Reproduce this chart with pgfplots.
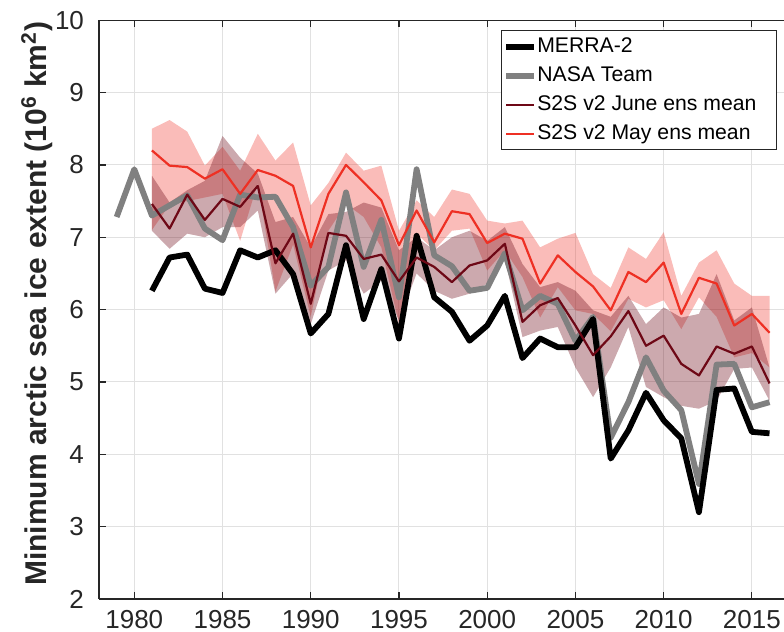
\documentclass[border=0pt]{standalone}
\usepackage{pgfplots}
\pgfplotsset{compat=1.18}
\usepgfplotslibrary{fillbetween}
\usepackage{fontspec}
\setmainfont{Liberation Sans}

\definecolor{axgray}{RGB}{38,38,38}
\definecolor{gridgray}{RGB}{225,225,225}
\definecolor{nasagray}{RGB}{128,128,128}
\definecolor{junered}{RGB}{110,8,22}
\definecolor{mayred}{RGB}{238,48,36}

% observed minimum extent
\pgfplotstableread{
year merra nasa
1979 nan  7.28
1980 nan  7.94
1981 6.26 7.30
1982 6.72 7.44
1983 6.76 7.58
1984 6.29 7.12
1985 6.23 6.96
1986 6.82 7.59
1987 6.72 7.55
1988 6.82 7.56
1989 6.49 7.14
1990 5.67 6.33
1991 5.94 6.59
1992 6.89 7.62
1993 5.87 6.59
1994 6.56 7.24
1995 5.60 6.17
1996 7.02 7.94
1997 6.17 6.75
1998 5.97 6.60
1999 5.57 6.26
2000 5.78 6.30
2001 6.19 6.78
2002 5.33 5.99
2003 5.60 6.19
2004 5.48 6.08
2005 5.48 5.57
2006 5.87 5.90
2007 3.94 4.23
2008 4.33 4.72
2009 4.85 5.34
2010 4.47 4.88
2011 4.22 4.61
2012 3.20 3.59
2013 4.89 5.24
2014 4.91 5.25
2015 4.31 4.65
2016 4.29 4.72
}\obs

% S2S v2 ensemble means and spread (June / May starts)
\pgfplotstableread{
year jm   jlo  jhi  mm   mlo  mhi
1981 7.46 7.09 7.85 8.20 7.10 8.50
1982 7.12 6.84 7.48 7.99 7.45 8.62
1983 7.59 7.05 7.65 7.97 7.50 8.46
1984 7.24 7.00 7.78 7.81 7.55 7.99
1985 7.53 7.14 8.40 7.94 7.60 8.25
1986 7.42 7.14 8.10 7.60 6.95 7.92
1987 7.71 7.37 7.88 7.93 7.75 8.43
1988 6.64 6.22 7.21 7.85 6.25 8.06
1989 7.05 6.50 7.28 7.71 6.90 8.31
1990 6.08 5.80 6.86 6.86 5.90 7.44
1991 7.06 6.54 7.32 7.60 7.09 7.75
1992 7.02 6.68 7.35 8.00 7.46 8.17
1993 6.70 6.22 7.48 7.76 7.28 7.92
1994 6.76 6.40 7.41 7.51 6.86 7.99
1995 6.39 5.85 6.82 6.89 5.80 7.09
1996 6.72 6.50 7.00 7.37 7.05 7.51
1997 6.59 6.26 6.82 6.93 6.82 7.28
1998 6.38 6.15 7.00 7.36 7.09 7.66
1999 6.61 6.22 7.09 7.32 7.12 7.60
2000 6.68 6.36 6.95 6.92 6.54 7.23
2001 6.91 6.70 7.14 7.05 6.82 7.19
2002 5.83 5.62 6.63 6.98 6.45 7.23
2003 6.06 5.71 6.31 6.36 5.89 6.86
2004 6.16 5.76 6.38 6.75 6.31 6.98
2005 5.78 5.20 6.26 6.52 5.99 7.06
2006 5.37 4.79 5.99 6.32 5.94 6.49
2007 5.63 5.20 5.90 5.99 5.70 6.30
2008 5.98 5.76 6.19 6.52 6.15 6.86
2009 5.50 4.93 5.80 6.38 6.03 6.70
2010 5.64 4.79 6.03 6.65 6.13 7.07
2011 5.25 4.67 5.89 5.94 5.73 6.19
2012 5.09 4.63 5.94 6.44 6.17 6.65
2013 5.49 4.74 6.49 6.36 5.90 6.82
2014 5.39 5.18 5.85 5.78 5.34 6.36
2015 5.49 5.20 6.03 5.94 5.40 6.19
2016 4.98 4.74 5.20 5.68 5.20 6.19
}\ens

\begin{document}
\begin{tikzpicture}
\begin{axis}[
    at={(0,0)}, anchor=south west,
    scale only axis,
    width=342.5pt, height=289.4pt,
    xmin=1978, xmax=2016.82,
    ymin=2, ymax=10,
    xtick={1980,1985,...,2015},
    ytick={2,3,...,10},
    axis y line*=left,
    grid=major,
    grid style={gridgray, line width=0.5pt},
    axis line style={axgray, line width=0.6pt},
    tick style={axgray, line width=0.6pt},
    tick align=inside,
    major tick length=3.5pt,
    /pgf/number format/1000 sep={},
    /pgf/number format/assume math mode=true,
    ticklabel style={font=\fontsize{13}{15}\selectfont, text=axgray},
    x tick label style={yshift=-2pt},
    y tick label style={xshift=-4pt},
    every axis y label/.style={
        at={(axis description cs:0,0.51)}, xshift=-31pt,
        rotate=90, anchor=center,
        font=\bfseries\fontsize{15}{18}\selectfont, text=axgray,
    },
    ylabel={Minimum arctic sea ice extent (10\textsuperscript{6} km\textsuperscript{2})},
    legend style={
        at={(0.9898,0.9827)}, anchor=north east,
        draw=axgray, line width=0.5pt, fill=white,
        font=\fontsize{10.6}{12.5}\selectfont,
        inner xsep=1pt, inner ysep=3pt,
        row sep=4.5pt,
        nodes={inner sep=0pt, text height=7.8pt, text depth=2.2pt},
    },
    legend cell align=left,
    legend image code/.code={\draw[#1] (0pt,0pt) -- (14pt,0pt);},
]
    % spread bands
    \addplot[name path=mhi, draw=none, forget plot] table[x=year, y=mhi] {\ens};
    \addplot[name path=mlo, draw=none, forget plot] table[x=year, y=mlo] {\ens};
    \addplot[fill=mayred, fill opacity=0.32, draw=none, forget plot] fill between[of=mhi and mlo];
    \addplot[name path=jhi, draw=none, forget plot] table[x=year, y=jhi] {\ens};
    \addplot[name path=jlo, draw=none, forget plot] table[x=year, y=jlo] {\ens};
    \addplot[fill=junered, fill opacity=0.35, draw=none, forget plot] fill between[of=jhi and jlo];

    % observations
    \addplot[nasagray, line width=2.9pt, line join=round, forget plot] table[x=year, y=nasa] {\obs};
    \addplot[black, line width=2.9pt, line join=round, forget plot] table[x=year, y=merra] {\obs};

    % ensemble means
    \addplot[junered, line width=1.1pt, line join=round, forget plot] table[x=year, y=jm] {\ens};
    \addplot[mayred, line width=1.1pt, line join=round, forget plot] table[x=year, y=mm] {\ens};

    \addlegendimage{black, line width=2.9pt}
    \addlegendentry{MERRA-2}
    \addlegendimage{nasagray, line width=2.9pt}
    \addlegendentry{NASA Team}
    \addlegendimage{junered, line width=1.1pt}
    \addlegendentry{S2S v2 June ens mean\hspace*{9pt}}
    \addlegendimage{mayred, line width=1.1pt}
    \addlegendentry{S2S v2 May ens mean}
\end{axis}
\pgfresetboundingbox
\path[use as bounding box] (-49.5pt,-16.5pt) rectangle (342.5pt,299.5pt);
\end{tikzpicture}
\end{document}
